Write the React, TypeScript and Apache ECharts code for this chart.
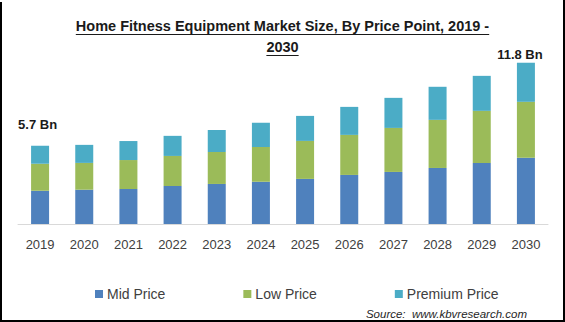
import React, { useEffect, useRef } from "react";
import * as echarts from "echarts";

const categories = ["2019", "2020", "2021", "2022", "2023", "2024", "2025", "2026", "2027", "2028", "2029", "2030"];
const midPrice = [2.44, 2.51, 2.56, 2.78, 2.93, 3.1, 3.3, 3.59, 3.81, 4.1, 4.47, 4.84];
const lowPrice = [1.96, 1.96, 2.12, 2.2, 2.34, 2.54, 2.78, 2.93, 3.22, 3.52, 3.81, 4.1];
const premiumPrice = [1.32, 1.32, 1.39, 1.47, 1.61, 1.76, 1.83, 2.05, 2.2, 2.42, 2.56, 2.86];
const seriesNames = ["Mid Price", "Low Price", "Premium Price"];
const firstTotalLabel = "5.7 Bn";
const lastTotalLabel = "11.8 Bn";
const titleLines = ["Home Fitness Equipment Market Size, By Price Point, 2019 -", "2030"];
const sourceText = "Source:  www.kbvresearch.com";

const TITLE_FONT_FAMILY = '"Liberation Sans", Arial, sans-serif';
const TITLE_SIZE = 14.5;

function measure(text: string, font: string): number {
  const c = document.createElement("canvas").getContext("2d");
  if (!c) return text.length * 7;
  c.font = font;
  return c.measureText(text).width;
}

export default function App() {
  const ref = useRef<HTMLDivElement>(null);
  useEffect(() => {
    if (!ref.current) return;
    const chart = echarts.init(ref.current, null, { renderer: "svg" });
    const titleFont = `bold ${TITLE_SIZE}px ${TITLE_FONT_FAMILY}`;
    const cx = 282.5;
    const w1 = measure(titleLines[0], titleFont);
    const w2 = measure(titleLines[1], titleFont);
    const line1Y = 26;
    const line2Y = 47;

    const premiumData = premiumPrice.map((v, i) => {
      if (i === 0) {
        return {
          value: v,
          label: { show: true, formatter: firstTotalLabel, offset: [-2.5, -9.5] },
        };
      }
      if (i === premiumPrice.length - 1) {
        return {
          value: v,
          label: { show: true, formatter: lastTotalLabel, offset: [-6, 3] },
        };
      }
      return v;
    });

    chart.setOption({
      animation: false,
      backgroundColor: "#ffffff",
      grid: { left: 18, right: 17, top: 60, bottom: 98, containLabel: false },
      legend: {
        data: seriesNames,
        left: 90,
        top: 282,
        icon: "rect",
        itemWidth: 8,
        itemHeight: 8,
        itemGap: 78,
        textStyle: { fontFamily: '"Liberation Sans", Arial, sans-serif', fontSize: 14, color: "#404040", padding: [0, 0, 0, -1] },
      },
      xAxis: {
        type: "category",
        data: categories,
        axisLine: { show: true, lineStyle: { color: "#d9d9d9", width: 1 } },
        axisTick: { show: false },
        axisLabel: {
          margin: 14,
          fontFamily: '"Liberation Sans", Arial, sans-serif',
          fontSize: 13,
          color: "#404040",
        },
      },
      yAxis: {
        type: "value",
        min: 0,
        max: 12,
        show: false,
        splitLine: { show: false },
      },
      series: [
        {
          name: seriesNames[0],
          type: "bar",
          stack: "total",
          barWidth: 18,
          data: midPrice,
          itemStyle: { color: "#4f81bd" },
        },
        {
          name: seriesNames[1],
          type: "bar",
          stack: "total",
          barWidth: 18,
          data: lowPrice,
          itemStyle: { color: "#9bbb59" },
        },
        {
          name: seriesNames[2],
          type: "bar",
          stack: "total",
          barWidth: 18,
          data: premiumData,
          itemStyle: { color: "#4bacc6" },
          label: {
            show: false,
            position: "top",
            distance: 5,
            fontFamily: '"Liberation Sans", Arial, sans-serif',
            fontWeight: "bold",
            fontSize: 13,
            color: "#1a1a1a",
          },
        },
      ],
      graphic: [
        {
          type: "text",
          x: cx,
          y: line1Y,
          style: {
            text: titleLines[0],
            font: titleFont,
            fill: "#1a1a1a",
            textAlign: "center",
            textVerticalAlign: "middle",
          },
        },
        {
          type: "text",
          x: cx,
          y: line2Y,
          style: {
            text: titleLines[1],
            font: titleFont,
            fill: "#1a1a1a",
            textAlign: "center",
            textVerticalAlign: "middle",
          },
        },
        {
          type: "line",
          shape: { x1: cx - w1 / 2, y1: 34.5, x2: cx + w1 / 2, y2: 34.5 },
          style: { stroke: "#1a1a1a", lineWidth: 1.2 },
        },
        {
          type: "line",
          shape: { x1: cx - w2 / 2, y1: 55.5, x2: cx + w2 / 2, y2: 55.5 },
          style: { stroke: "#1a1a1a", lineWidth: 1.2 },
        },
        {
          type: "text",
          x: 527,
          y: 314,
          style: {
            text: sourceText,
            font: 'italic 11.5px "Liberation Sans", Arial, sans-serif',
            fill: "#262626",
            textAlign: "right",
            textVerticalAlign: "middle",
          },
        },
        {
          type: "line",
          shape: { x1: 1, y1: 2, x2: 1, y2: 322 },
          style: { stroke: "#000000", lineWidth: 2 },
        },
        {
          type: "line",
          shape: { x1: 564, y1: 0, x2: 564, y2: 322 },
          style: { stroke: "#000000", lineWidth: 2 },
        },
        {
          type: "line",
          shape: { x1: 0, y1: 321, x2: 565, y2: 321 },
          style: { stroke: "#000000", lineWidth: 2 },
        },
      ],
    });
    return () => chart.dispose();
  }, []);

  return (
    <div
      style={{ position: "absolute", left: 0, top: 0, width: 565, height: 322, background: "#ffffff" }}
    >
      <div ref={ref} style={{ width: 565, height: 322 }} />
    </div>
  );
}
